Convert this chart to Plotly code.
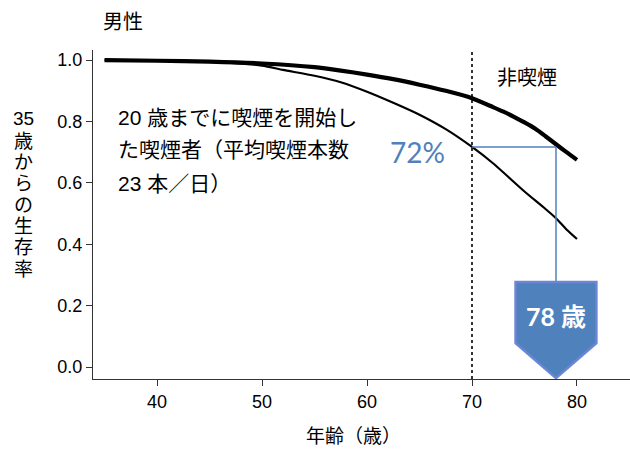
import plotly.graph_objects as go

# --- data ---
ages_nonsmoker = [35, 40, 45, 50, 55, 57.5, 60, 62.5, 65, 67.5, 70, 72, 73, 74, 75, 76, 77, 78, 79, 80]
surv_nonsmoker = [1.000, 0.998, 0.995, 0.989, 0.977, 0.966, 0.953, 0.938, 0.920, 0.900, 0.876,
                  0.847, 0.832, 0.815, 0.797, 0.777, 0.752, 0.726, 0.700, 0.675]
ages_smoker = [35, 40, 45, 50, 52, 55, 57.5, 60, 62.5, 65, 67.5, 70, 72, 75, 77, 78, 79, 80]
surv_smoker = [1.000, 0.998, 0.994, 0.982, 0.968, 0.949, 0.928, 0.897, 0.861, 0.822,
               0.775, 0.717, 0.664, 0.572, 0.515, 0.485, 0.448, 0.417]
x_ticks = [40, 50, 60, 70, 80]
y_ticks = [0.0, 0.2, 0.4, 0.6, 0.8, 1.0]
y_tick_labels = ["0.0", "0.2", "0.4", "0.6", "0.8", "1.0"]
ref_age = 70
ref_surv = 0.717
equiv_age = 78
pct_label = "72%"
age_label = "78 歳"
y_title_chars = ["35", "歳", "か", "ら", "の", "生", "存", "率"]

JP = "Liberation Sans, Noto Sans CJK JP"
BLUE = "#4f81bd"

fig = go.Figure()
fig.add_trace(go.Scatter(x=ages_nonsmoker, y=surv_nonsmoker, mode="lines", line_shape="spline",
                         line=dict(color="black", width=4.2, smoothing=0.6), showlegend=False))
fig.add_trace(go.Scatter(x=ages_smoker, y=surv_smoker, mode="lines", line_shape="spline",
                         line=dict(color="black", width=2.2, smoothing=0.6), showlegend=False))

shapes = []
shapes.append(dict(type="line", xref="x", yref="y", x0=ref_age, x1=ref_age, y0=-0.039, y1=1.04,
                   line=dict(color="black", width=1.6, dash="dot")))
shapes.append(dict(type="line", xref="x", yref="y", x0=ref_age, x1=equiv_age, y0=ref_surv, y1=ref_surv,
                   line=dict(color=BLUE, width=1.5)))
shapes.append(dict(type="line", xref="x", yref="y", x0=equiv_age, x1=equiv_age, y0=ref_surv, y1=0.277,
                   line=dict(color=BLUE, width=1.5)))
hw = 3.85
top, mid, tip = 0.277, 0.078, -0.036
path = (f"M {equiv_age - hw},{top} L {equiv_age + hw},{top} L {equiv_age + hw},{mid} "
        f"L {equiv_age},{tip} L {equiv_age - hw},{mid} Z")
shapes.append(dict(type="path", xref="x", yref="y", path=path, fillcolor=BLUE,
                   line=dict(color="#6b86d4", width=2.5), layer="above"))

L, R, T, B = 93, 0, 50, 71
PW, PH = 630 - L - R, 450 - T - B

def px(xp, yp):
    return (xp - L) / PW, 1 - (yp - T) / PH

annotations = [
    dict(text="男性", x=101, y=22, xanchor="left", size=20),
    dict(text="20 歳までに喫煙を開始し", x=116, y=117, xanchor="left", size=21),
    dict(text="た喫煙者（平均喫煙本数", x=116, y=150, xanchor="left", size=21),
    dict(text="23 本／日）", x=116, y=183, xanchor="left", size=21),
    dict(text="非喫煙", x=527, y=78, xanchor="center", size=20),
    dict(text="年齢（歳）", x=353, y=436, xanchor="center", size=19),
]
ann_objs = []
for a in annotations:
    ax, ay = px(a["x"], a["y"])
    ann_objs.append(dict(text=a["text"], xref="paper", yref="paper", x=ax, y=ay,
                         xanchor=a["xanchor"], yanchor="middle", showarrow=False,
                         font=dict(family=JP, size=a["size"], color="black")))
y_title_pos = [118, 142, 162, 183, 205, 226, 247, 269]
for ch, yp in zip(y_title_chars, y_title_pos):
    ax, ay = px(23, yp)
    ann_objs.append(dict(text=ch, xref="paper", yref="paper", x=ax, y=ay,
                         xanchor="center", yanchor="middle", showarrow=False,
                         font=dict(family=JP, size=19, color="black")))
ax, ay = px(417, 152)
ann_objs.append(dict(text=pct_label, xref="paper", yref="paper", x=ax, y=ay,
                     xanchor="center", yanchor="middle", showarrow=False,
                     font=dict(family="Lato, Noto Sans CJK JP", size=28, color=BLUE)))
ann_objs.append(dict(text=f"<b>{age_label}</b>", x=equiv_age, y=0.165, xref="x", yref="y",
                     xanchor="center", yanchor="middle", showarrow=False,
                     font=dict(family="Lato, Noto Sans CJK JP", size=25, color="white")))

fig.update_layout(
    width=630, height=450,
    margin=dict(l=L, r=R, t=T, b=B),
    plot_bgcolor="white", paper_bgcolor="white",
    shapes=shapes, annotations=ann_objs,
    xaxis=dict(range=[33.9, 85.05], tickvals=x_ticks, ticks="outside", ticklen=6,
               tickcolor="#333", showline=True, linecolor="#333", linewidth=1,
               showgrid=False, zeroline=False,
               tickfont=dict(family="Liberation Sans", size=18, color="black")),
    yaxis=dict(range=[-0.039, 1.033], tickvals=y_ticks, ticktext=y_tick_labels,
               ticks="outside", ticklen=6, tickcolor="#333", showline=True,
               linecolor="#333", linewidth=1, showgrid=False, zeroline=False,
               tickfont=dict(family="Liberation Sans", size=18, color="black")),
)

fig.write_html("out.html")
